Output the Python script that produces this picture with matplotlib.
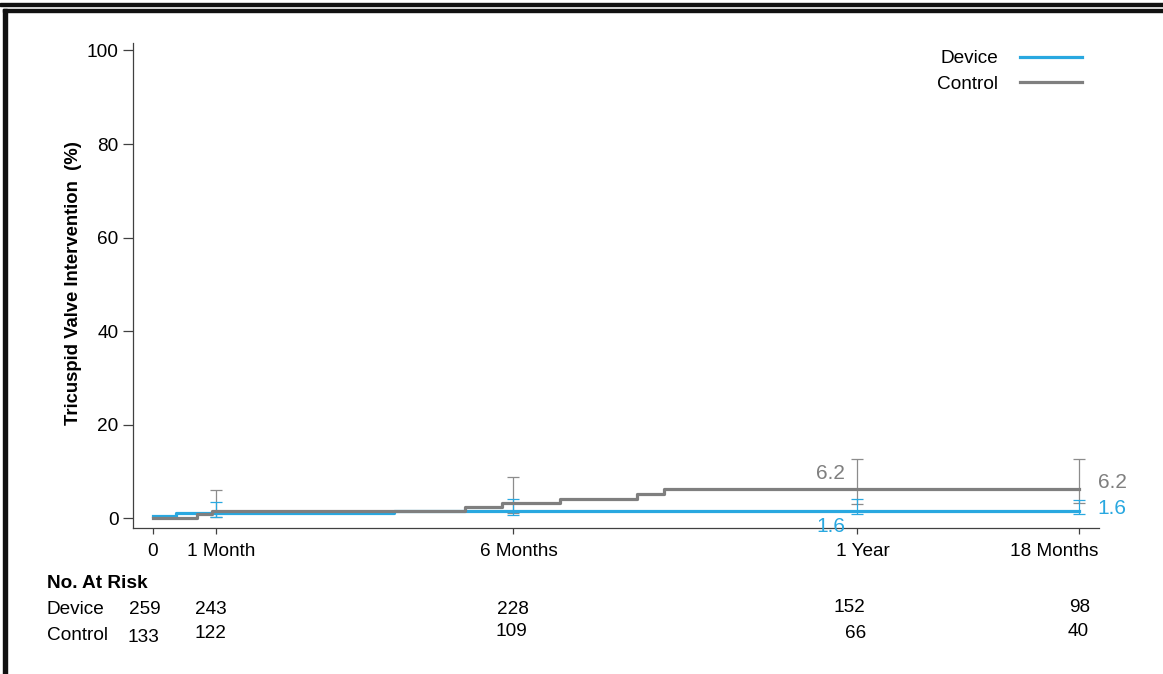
import matplotlib
matplotlib.use("Agg")
import matplotlib.pyplot as plt
from matplotlib.patches import Rectangle
from matplotlib.transforms import blended_transform_factory, ScaledTranslation

plt.rcParams['font.family'] = ['Liberation Sans', 'DejaVu Sans']

BLUE = '#29a8e0'
GREY = '#7f7f7f'
FS = 13.7

# cumulative incidence steps (days, %)
device_t = [0, 12, 125, 480]
device_y = [0.4, 1.2, 1.6, 1.6]
control_t = [0, 23, 31, 162, 181, 211, 251, 265, 480]
control_y = [0, 0.8, 1.6, 2.4, 3.3, 4.1, 5.2, 6.2, 6.2]

# 95% CI at the visit time points
ci_t = [33, 187, 365, 480]
device_lo = [0.3, 0.6, 0.85, 0.9]
device_hi = [3.4, 4.0, 4.0, 3.9]
device_mid = [1.2, 1.6, 1.6, 1.6]
control_lo = [0.2, 1.1, 3.1, 3.2]
control_hi = [6.0, 8.7, 12.6, 12.6]
control_mid = [1.6, 3.3, 6.2, 6.2]

tick_pos = [0, 33, 187, 365, 480]
tick_labels = ['0', '1 Month', '6 Months', '1 Year', '18 Months']

# numbers at risk
risk_device = [259, 243, 228, 152, 98]
risk_device_x = [-4, 30, 187, 361, 480.5]
risk_control = [133, 122, 109, 66, 40]
risk_control_x = [-5, 30, 186, 364.5, 480]

fig = plt.figure(figsize=(11.63, 6.74), dpi=100)
ax = fig.add_axes([133 / 1163, 1 - 528 / 674, (1099 - 133) / 1163, (528 - 43) / 674])

# error bars (drawn under the curves)
ax.errorbar(ci_t, control_mid,
            yerr=[[m - l for m, l in zip(control_mid, control_lo)],
                  [h - m for m, h in zip(control_mid, control_hi)]],
            fmt='none', ecolor='#8c8c8c', elinewidth=0.9, capsize=4.3, capthick=0.9, zorder=1)
ax.errorbar(ci_t, device_mid,
            yerr=[[m - l for m, l in zip(device_mid, device_lo)],
                  [h - m for m, h in zip(device_mid, device_hi)]],
            fmt='none', ecolor=BLUE, elinewidth=0.9, capsize=4.3, capthick=0.9, zorder=1)

ln_dev, = ax.step(device_t, device_y, where='post', color=BLUE, lw=2.3, label='Device', zorder=2)
ln_ctl, = ax.step(control_t, control_y, where='post', color=GREY, lw=2.3, label='Control', zorder=3)

ax.set_xlim(-10.2, 490.6)
ax.set_ylim(-2.1, 101.6)
ax.set_yticks([0, 20, 40, 60, 80, 100])
ax.set_xticks(tick_pos)
ax.set_xticklabels(tick_labels)
for s in ['top', 'right']:
    ax.spines[s].set_visible(False)
for s in ['left', 'bottom']:
    ax.spines[s].set_color('#404040')
    ax.spines[s].set_linewidth(0.9)
ax.tick_params(axis='y', length=7, width=0.9, color='#404040', pad=3.5, labelsize=FS)
ax.tick_params(axis='x', length=4.5, width=0.9, color='#404040', pad=6.3, labelsize=FS)

# nudge the month labels a little to the right; keep the last one inside the axis
for lab, dx in zip(ax.get_xticklabels(), [0, 0.05, 0.05, 0.06, 0.195]):
    lab.set_transform(lab.get_transform() + ScaledTranslation(dx, 0, fig.dpi_scale_trans))
ax.get_xticklabels()[-1].set_ha('right')

# final estimates
ax.text(365 - 6, 9.6, f'{control_y[-1]:.1f}', color=GREY, fontsize=15,
        ha='right', va='center')
ax.text(365 - 6, -1.8, f'{device_y[-1]:.1f}', color=BLUE, fontsize=15,
        ha='right', va='center')
ax.text(480 + 10, 7.7, f'{control_y[-1]:.1f}', color=GREY, fontsize=15,
        ha='left', va='center')
ax.text(480 + 10, 2.0, f'{device_y[-1]:.1f}', color=BLUE, fontsize=15,
        ha='left', va='center')

leg = ax.legend(handles=[ln_dev, ln_ctl], loc='upper right', bbox_to_anchor=(1082 / 1163, 1 - 50 / 674),
                bbox_transform=fig.transFigure, frameon=False, markerfirst=False,
                fontsize=FS, handlelength=3.26, handletextpad=1.15, labelspacing=0.42,
                borderpad=0, borderaxespad=0)

fig.text(74 / 1163, 1 - 283 / 674, 'Tricuspid Valve Intervention  (%)', rotation=90,
         fontsize=13.3, fontweight='bold', ha='center', va='center')

# at-risk table
tr = blended_transform_factory(ax.transData, fig.transFigure)
fig.text(47 / 1163, 1 - 584 / 674, 'No. At Risk', fontsize=FS, fontweight='bold', va='center')
fig.text(47 / 1163, 1 - 609 / 674, 'Device', fontsize=FS, va='center')
fig.text(47 / 1163, 1 - 636 / 674, 'Control', fontsize=FS, va='center')
dev_rows = [609, 610, 610, 608, 608]
ctl_rows = [638, 633, 632, 634, 632]
for x, n, yy in zip(risk_device_x, risk_device, dev_rows):
    ax.text(x, 1 - yy / 674, str(n), transform=tr, fontsize=FS, ha='center', va='center', clip_on=False)
for x, n, yy in zip(risk_control_x, risk_control, ctl_rows):
    ax.text(x, 1 - yy / 674, str(n), transform=tr, fontsize=FS, ha='center', va='center', clip_on=False)

# page frame
W, H = 1163, 674
fig.patches.append(Rectangle((0, 1 - 6 / H), 1, 3 / H, transform=fig.transFigure,
                             color='#111111', zorder=5))
fig.patches.append(Rectangle((3 / W, 1 - 12 / H), 1, 3 / H, transform=fig.transFigure,
                             color='#111111', zorder=5))
fig.patches.append(Rectangle((3 / W, 0), 4 / W, 1 - 9 / H, transform=fig.transFigure,
                             color='#111111', zorder=5))

fig.savefig('out.png', dpi=100)
